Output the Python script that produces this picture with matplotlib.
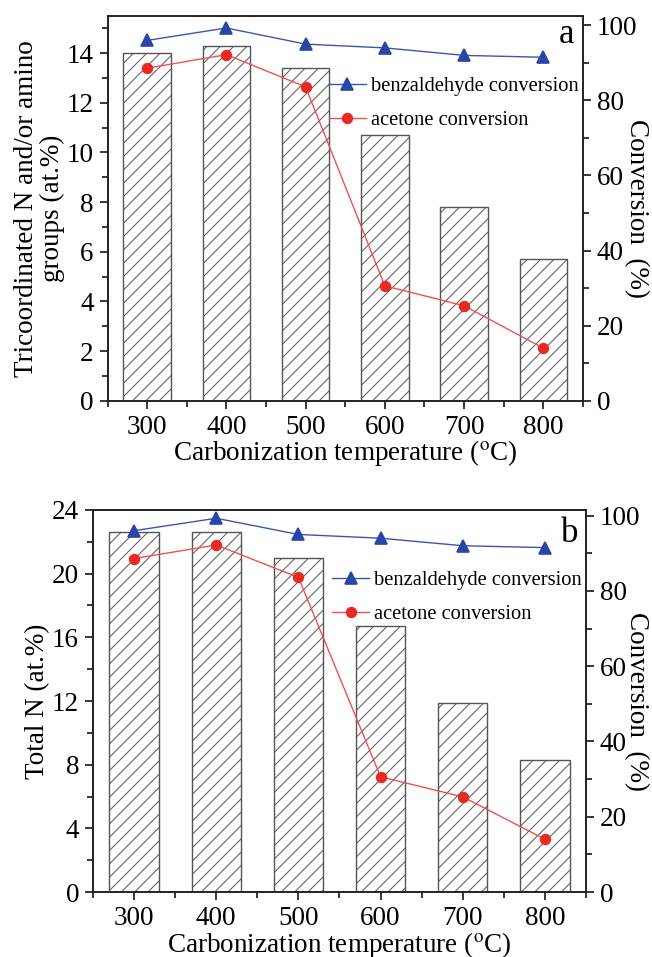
import numpy as np
from matplotlib import pyplot as plt
from matplotlib.ticker import MultipleLocator

DPI = 120
K = 100 / DPI   # sizes below were worked out at 100 dpi

plt.rcParams['font.family'] = ['Liberation Serif', 'DejaVu Serif']
plt.rcParams['mathtext.fontset'] = 'stix'
plt.rcParams['hatch.linewidth'] = 0.7 * K

temps = [300, 400, 500, 600, 700, 800]

# nitrogen content from XPS (at.%)
tricoord_N = [14.0, 14.3, 13.4, 10.7, 7.8, 5.7]
total_N = [22.6, 22.6, 21.0, 16.7, 11.9, 8.3]

# catalytic conversion (%)
benzaldehyde_conv = [96.0, 99.3, 95.0, 94.0, 92.0, 91.5]
acetone_conv = [88.6, 92.2, 83.6, 30.6, 25.3, 14.0]

FS = 19.5 * K


def draw_panel(ax, bars, ylabel, ymax, ystep, conv_max, letter, lab_l, lab_r, let_xy):
    ax.bar(temps, bars, width=60, color='white', edgecolor='#555555',
           linewidth=1.0 * K, hatch='///', zorder=2)
    ax.set_xlim(250, 850)
    ax.set_ylim(0, ymax)
    ax.xaxis.set_major_locator(MultipleLocator(100))
    ax.xaxis.set_minor_locator(MultipleLocator(50))
    ax.yaxis.set_major_locator(MultipleLocator(ystep))
    ax.yaxis.set_minor_locator(MultipleLocator(ystep / 2))
    ax.tick_params(which='both', direction='out', top=False, labelsize=FS,
                   width=1.1 * K, pad=4 * K)
    ax.tick_params(which='major', length=6 * K)
    ax.tick_params(which='minor', length=4 * K)
    ax.set_xlabel(r'Carbonization temperature ($^{\rm o}$C)', fontsize=FS,
                  labelpad=-1 * K)
    ax.set_ylabel(ylabel, fontsize=FS, linespacing=1.05)
    ax.yaxis.set_label_coords(lab_l, 0.5)

    ax2 = ax.twinx()
    ax2.plot(temps, benzaldehyde_conv, '-^', color='#3a55b0', lw=1.0 * K,
             ms=8 * K, mfc='#2a45a8', mec='#2a45a8', label='benzaldehyde conversion')
    ax2.plot(temps, acetone_conv, '-o', color='#f05050', lw=1.0 * K,
             ms=7 * K, mfc='#e82a22', mec='#e82a22', label='acetone conversion')
    ax2.set_ylim(0, conv_max)
    ax2.yaxis.set_major_locator(MultipleLocator(20))
    ax2.yaxis.set_minor_locator(MultipleLocator(10))
    ax2.tick_params(which='both', direction='out', labelsize=FS,
                    width=1.1 * K, pad=4 * K)
    ax2.tick_params(which='major', length=6 * K)
    ax2.tick_params(which='minor', length=4 * K)
    ax2.set_ylabel('Conversion  (%)', fontsize=FS, rotation=270)
    ax2.yaxis.set_label_coords(lab_r, 0.5)

    for a in (ax, ax2):
        for s in a.spines.values():
            s.set_linewidth(1.2 * K)
            s.set_color('#222222')

    ax2.legend(loc='upper right', bbox_to_anchor=(1.0, 0.852), frameon=False,
               fontsize=14.8 * K, numpoints=1, handlelength=1.8,
               handletextpad=0.25, labelspacing=0.7, borderpad=0,
               borderaxespad=0.2)
    ax2.text(let_xy[0], let_xy[1], letter, transform=ax2.transAxes,
             fontsize=25 * K, ha='right', va='baseline')


fig = plt.figure(figsize=(652 / DPI, 957 / DPI), dpi=DPI)
ax_a = fig.add_axes([0.165, 0.5813, 0.729, 0.402])
ax_b = fig.add_axes([0.1426, 0.0679, 0.7562, 0.3992])

draw_panel(ax_a, tricoord_N, 'Tricoordinated N and/or amino\ngroups (at.%)',
           15.5, 2, 102.5, 'a', -0.09, 1.139, (0.981, 0.93))
draw_panel(ax_b, total_N, 'Total N (at.%)', 24, 4, 101.5, 'b', -0.087, 1.128,
           (0.984, 0.916))

fig.savefig('out.png', dpi=DPI)
